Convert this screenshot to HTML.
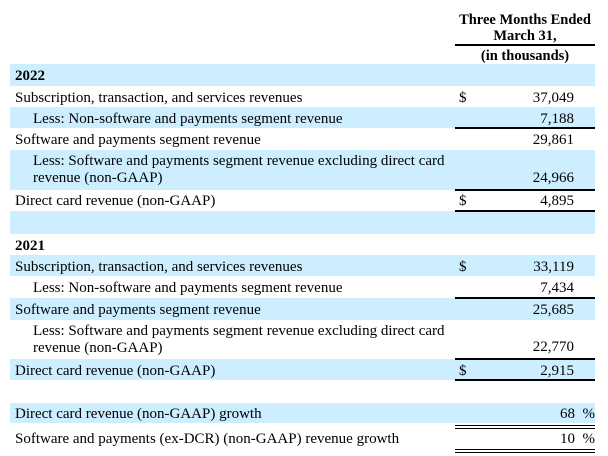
<!DOCTYPE html>
<html><head><meta charset="utf-8">
<style>
body{margin:0;width:608px;height:456px;background:#fff;position:relative;overflow:hidden;font-family:"Liberation Serif",serif;font-size:15px;color:#000}
.b{position:absolute;left:10px;width:585px;background:#CCEEFF}
.t{position:absolute;white-space:nowrap;line-height:16px}
.r{position:absolute;white-space:nowrap;line-height:16px;text-align:right;right:34px}
.l{position:absolute;height:1.5px;background:#000;left:455px;width:140px}
.h{position:absolute;font-weight:bold;width:140px;left:455px;text-align:center;line-height:16px;font-size:14.5px}
</style></head><body>
<div class="h" style="top:12px">Three Months Ended<br>March 31,</div>
<div class="l" style="top:44px"></div>
<div class="h" style="top:48px">(in thousands)</div>

<div class="b" style="top:64px;height:22px"></div>
<div class="b" style="top:107px;height:21px"></div>
<div class="b" style="top:150px;height:40px"></div>
<div class="b" style="top:211px;height:23px"></div>
<div class="b" style="top:255px;height:21px"></div>
<div class="b" style="top:298px;height:22px"></div>
<div class="b" style="top:359px;height:21px"></div>
<div class="b" style="top:403px;height:20px"></div>

<div class="t" style="top:68px;left:15px;font-weight:bold">2022</div>
<div class="t" style="top:90px;left:15px">Subscription, transaction, and services revenues</div>
<div class="t" style="top:90px;left:459px">$</div>
<div class="r" style="top:90px">37,049</div>
<div class="t" style="top:111px;left:33px">Less: Non-software and payments segment revenue</div>
<div class="r" style="top:111px">7,188</div>
<div class="l" style="top:127px"></div>
<div class="t" style="top:132px;left:15px">Software and payments segment revenue</div>
<div class="r" style="top:132px">29,861</div>
<div class="t" style="top:153px;left:33px;line-height:17px">Less: Software and payments segment revenue excluding direct card<br>revenue (non-GAAP)</div>
<div class="r" style="top:170px">24,966</div>
<div class="l" style="top:189px"></div>
<div class="t" style="top:193px;left:15px">Direct card revenue (non-GAAP)</div>
<div class="t" style="top:193px;left:459px">$</div>
<div class="r" style="top:193px">4,895</div>
<div class="l" style="top:210px"></div>

<div class="t" style="top:238px;left:15px;font-weight:bold">2021</div>
<div class="t" style="top:259px;left:15px">Subscription, transaction, and services revenues</div>
<div class="t" style="top:259px;left:459px">$</div>
<div class="r" style="top:259px">33,119</div>
<div class="t" style="top:280px;left:33px">Less: Non-software and payments segment revenue</div>
<div class="r" style="top:280px">7,434</div>
<div class="l" style="top:297px"></div>
<div class="t" style="top:302px;left:15px">Software and payments segment revenue</div>
<div class="r" style="top:302px">25,685</div>
<div class="t" style="top:323px;left:33px;line-height:17px">Less: Software and payments segment revenue excluding direct card<br>revenue (non-GAAP)</div>
<div class="r" style="top:339px">22,770</div>
<div class="l" style="top:358px"></div>
<div class="t" style="top:363px;left:15px">Direct card revenue (non-GAAP)</div>
<div class="t" style="top:363px;left:459px">$</div>
<div class="r" style="top:363px">2,915</div>
<div class="l" style="top:379px"></div>

<div class="t" style="top:406px;left:15px">Direct card revenue (non-GAAP) growth</div>
<div class="r" style="top:406px;right:13px">68 &nbsp;%</div>
<div class="l" style="top:425px;height:1px"></div>
<div class="l" style="top:428px;height:1px"></div>
<div class="t" style="top:431px;left:15px">Software and payments (ex-DCR) (non-GAAP) revenue growth</div>
<div class="r" style="top:431px;right:13px">10 &nbsp;%</div>
<div class="l" style="top:449px;height:1px"></div>
<div class="l" style="top:452px;height:1px"></div>
</body></html>
